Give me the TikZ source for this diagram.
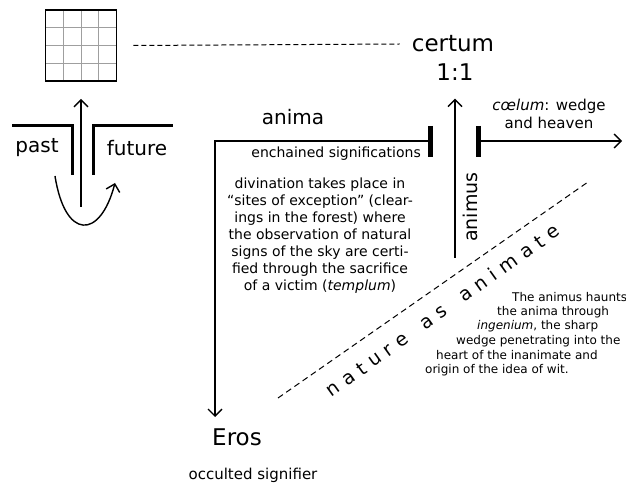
\documentclass[tikz,border=0pt]{standalone}
\usepackage{fontspec}
\setmainfont{DejaVu Sans}
\usetikzlibrary{arrows, arrows.meta, positioning}
\newcommand{\natgap}{\hspace{6.7pt}}

\begin{document}
\begin{tikzpicture}[x=1pt, y=-1pt,
  every node/.style={inner sep=0pt},
  bigtext/.style={font=\fontsize{23}{27}\selectfont},
  labeltext/.style={font=\fontsize{20}{24}\selectfont},
  midtext/.style={font=\fontsize{14}{17}\selectfont},
  smalltext/.style={font=\fontsize{12}{14.5}\selectfont},
  spaced/.style={font=\fontsize{19}{22}\selectfont, rotate=35.5, text height=1ex, text depth=0pt},
  stroke/.style={line width=1.4pt},
  wall/.style={line width=3pt},
  bar/.style={line width=5pt},
  gridline/.style={gray!75, line width=0.8pt},
  >={Straight Barb[length=7pt, width=14pt]}]
\useasboundingbox (0,0) rectangle (626,486);

% table of observations
\foreach \k in {1,2,3} {
  \draw[gridline] (45.5+\k*17.75,11) -- (45.5+\k*17.75,80);
  \draw[gridline] (46,10+\k*17.75) -- (116,10+\k*17.75);
}
\node[draw, line width=1.8pt, minimum size=71pt] (table) at (81,45.5) {};

\node[bigtext] (certum) at (453,44) {certum};
\node[bigtext] (ratio) at (455,72) {1:1};
\draw[line width=1pt, dash pattern=on 5pt off 3pt] ([xshift=16pt]table.east) -- ([xshift=-12pt]certum.west);

% past / future
\draw[wall] (12,126) -- (72,126) -- (72,175);
\draw[wall] (93,175) -- (93,126) -- (173,126);
\node[labeltext] (past) at (37,148) {past};
\node[labeltext] (future) at (137,148) {future};
\coordinate (stem) at (81,207);
\draw[stroke,->] (stem) -- ([yshift=-17pt]table.south);
\coordinate (ustart) at (55,176);
\coordinate (uend) at (115,183);
\draw[stroke,->] (ustart) .. controls (65,240) and (100,240) .. (uend);

% anima and cœlum
\coordinate (chainbar) at (430,141);
\coordinate (corner) at (215,141);
\coordinate (erostip) at (215,417);
\draw[bar] ([yshift=15pt]chainbar) -- ([yshift=-16pt]chainbar);
\draw[stroke,->] (chainbar) -- (corner) -- (erostip);
\coordinate (coelumbar) at (478,141);
\coordinate (coelumtip) at (622,141);
\draw[bar] ([yshift=15pt]coelumbar) -- ([yshift=-16pt]coelumbar);
\draw[stroke,->] (coelumbar) -- (coelumtip);
\coordinate (animusfoot) at (455,258);
\draw[stroke,->] (animusfoot) -- ([yshift=-18pt]ratio.south);

\node[labeltext] (anima) at (293,117) {anima};
\node[midtext, anchor=east] (chains) at (421,154) {enchained significations};
\node[midtext, font=\fontsize{15}{18}\selectfont, align=center] (coelum) at (549,114) {\textit{cœlum}: wedge\\and heaven};
\node[midtext, align=center] (divination) at (320,236) {divination takes place in\\“sites of exception” (clear-\\ings in the forest) where\\the observation of natural\\signs of the sky are certi-\\fied through the sacrifice\\of a victim (\textit{templum})};
\node[labeltext, font=\fontsize{19}{22}\selectfont, rotate=90] (animus) at (470,207) {animus};
\node[bigtext] (eros) at (237,437) {Eros};
\node[midtext, font=\fontsize{15}{18}\selectfont] (occulted) at (253,475) {occulted signifier};

% nature as animate
\coordinate (natlow) at (278,398);
\coordinate (nathigh) at (588,182);
\draw[line width=1pt, dash pattern=on 6pt off 4pt] (natlow) -- (nathigh);
\coordinate (natstart) at (335,392);
\node[spaced] (nature) at ([shift={(35.5:135pt)}]natstart)
  {n\natgap a\natgap t\natgap u\natgap r\natgap e\natgap\ \natgap a\natgap s\natgap\ \natgap a\natgap n\natgap i\natgap m\natgap a\natgap t\natgap e};

\foreach \x/\y/\txt [count=\i] in {512/297/{The animus haunts}, 497/312/{the anima through}, 477/326/{\textit{ingenium}, the sharp}, 456/341/{wedge penetrating into the}, 436/355/{heart of the inanimate and}, 425/370/{origin of the idea of wit.}}
  \node[smalltext, anchor=west] (haunt\i) at (\x,\y) {\txt};

\end{tikzpicture}
\end{document}
